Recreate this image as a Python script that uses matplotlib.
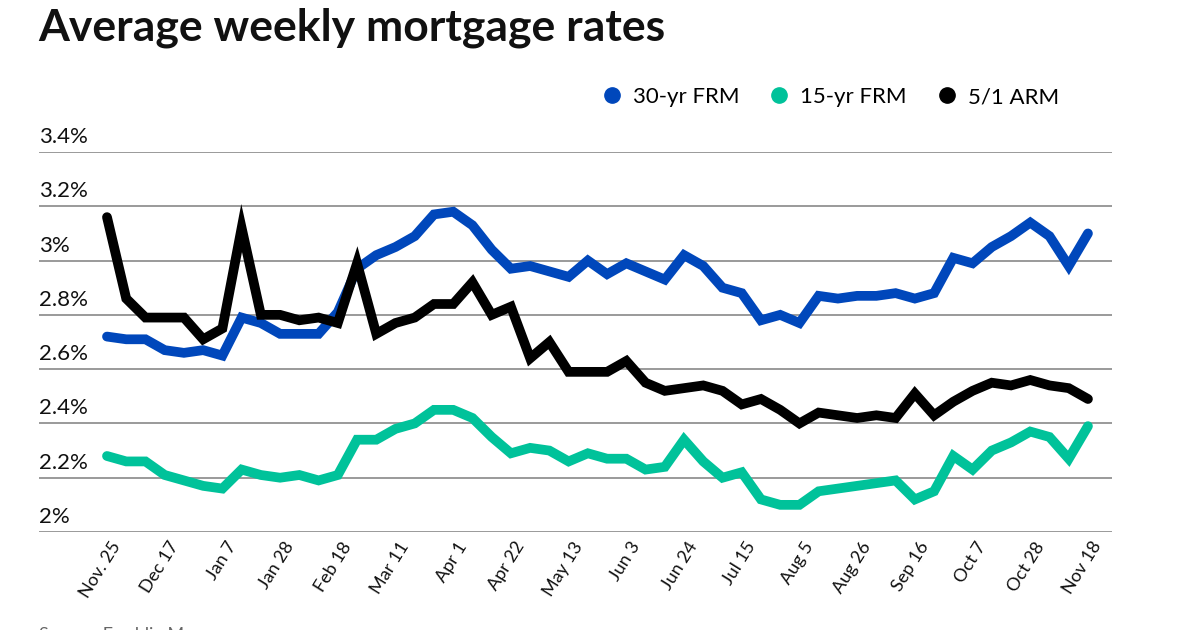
import numpy as np
import matplotlib
matplotlib.use('Agg')
import matplotlib.pyplot as plt
from matplotlib.lines import Line2D
from matplotlib.transforms import offset_copy

plt.rcParams['font.family'] = ['Lato', 'DejaVu Sans']

# weekly averages, Nov 25 2020 .. Nov 18 2021 (percent)
frm30 = [2.72, 2.71, 2.71, 2.67, 2.66, 2.67, 2.65, 2.79, 2.77, 2.73, 2.73, 2.73, 2.81,
         2.97, 3.02, 3.05, 3.09, 3.17, 3.18, 3.13, 3.04, 2.97, 2.98, 2.96, 2.94, 3.00,
         2.95, 2.99, 2.96, 2.93, 3.02, 2.98, 2.90, 2.88, 2.78, 2.80, 2.77, 2.87, 2.86,
         2.87, 2.87, 2.88, 2.86, 2.88, 3.01, 2.99, 3.05, 3.09, 3.14, 3.09, 2.98, 3.10]
frm15 = [2.28, 2.26, 2.26, 2.21, 2.19, 2.17, 2.16, 2.23, 2.21, 2.20, 2.21, 2.19, 2.21,
         2.34, 2.34, 2.38, 2.40, 2.45, 2.45, 2.42, 2.35, 2.29, 2.31, 2.30, 2.26, 2.29,
         2.27, 2.27, 2.23, 2.24, 2.34, 2.26, 2.20, 2.22, 2.12, 2.10, 2.10, 2.15, 2.16,
         2.17, 2.18, 2.19, 2.12, 2.15, 2.28, 2.23, 2.30, 2.33, 2.37, 2.35, 2.27, 2.39]
arm51 = [3.16, 2.86, 2.79, 2.79, 2.79, 2.71, 2.75, 3.12, 2.80, 2.80, 2.78, 2.79, 2.77,
         2.99, 2.73, 2.77, 2.79, 2.84, 2.84, 2.92, 2.80, 2.83, 2.64, 2.70, 2.59, 2.59,
         2.59, 2.63, 2.55, 2.52, 2.53, 2.54, 2.52, 2.47, 2.49, 2.45, 2.40, 2.44, 2.43,
         2.42, 2.43, 2.42, 2.51, 2.43, 2.48, 2.52, 2.55, 2.54, 2.56, 2.54, 2.53, 2.49]
tick_labels = ['Nov. 25', 'Dec 17', 'Jan 7', 'Jan 28', 'Feb 18', 'Mar 11', 'Apr 1',
               'Apr 22', 'May 13', 'Jun 3', 'Jun 24', 'Jul 15', 'Aug 5', 'Aug 26',
               'Sep 16', 'Oct 7', 'Oct 28', 'Nov 18']
y_ticks = [2.0, 2.2, 2.4, 2.6, 2.8, 3.0, 3.2, 3.4]
y_labels = ['2%', '2.2%', '2.4%', '2.6%', '2.8%', '3%', '3.2%', '3.4%']

series = ['15-yr FRM', '30-yr FRM', '5/1 ARM']
colors = {'30-yr FRM': '#0047bb', '15-yr FRM': '#00c29a', '5/1 ARM': '#000000'}
values = {'30-yr FRM': frm30, '15-yr FRM': frm15, '5/1 ARM': arm51}

W, H = 1200, 630
fig = plt.figure(figsize=(12, 6.3), dpi=100)
ax = fig.add_axes([39 / W, (H - 532) / H, (1112 - 39) / W, (532 - 152) / H])

x = np.arange(len(frm30))
for name in series:
    ax.plot(x, values[name], color=colors[name], lw=7,
            solid_capstyle='round', solid_joinstyle='miter', zorder=3)

ax.set_xlim(-3.535, 52.25)
ax.set_ylim(2.0, 3.4)
for s in ax.spines.values():
    s.set_visible(False)
ax.set_xticks([])
ax.set_yticks(y_ticks)
ax.tick_params(axis='y', length=0, labelleft=False)
ax.grid(axis='y', color='#7f7f7f', lw=1.1)
ax.set_axisbelow(True)

ytrans = offset_copy(ax.get_yaxis_transform(), fig=fig, x=0, y=5, units='dots')
for v, lab in zip(y_ticks, y_labels):
    ax.text(0, v, lab, transform=ytrans, ha='left', va='bottom',
            fontsize=16, color='#111111', clip_on=False)

xtrans = offset_copy(ax.transData, fig=fig, x=17, y=-7, units='dots')
for i, lab in zip(x[::3], tick_labels):
    ax.text(i, 2.0, lab, transform=xtrans, rotation=58, ha='right', va='top',
            fontsize=13, color='#111111', clip_on=False)

handles = [Line2D([], [], ls='none', marker='o', ms=11, color=colors[n])
           for n in ['30-yr FRM', '15-yr FRM', '5/1 ARM']]
fig.legend(handles, ['30-yr FRM', '15-yr FRM', '5/1 ARM'], ncol=3, frameon=False,
           loc='center right', bbox_to_anchor=(1079 / W, 1 - 97 / H),
           fontsize=16, handlelength=0.8, handletextpad=0.55, columnspacing=1.4)

fig.text(38 / W, 1 - 40 / H, 'Average weekly mortgage rates', fontsize=32,
         fontweight='bold', ha='left', va='baseline', color='#111111')
fig.text(39 / W, 1 - 627 / H, 'Source: Freddie Mac', fontsize=13,
         ha='left', va='top', color='#666666')

fig.savefig('out.png', dpi=100)
